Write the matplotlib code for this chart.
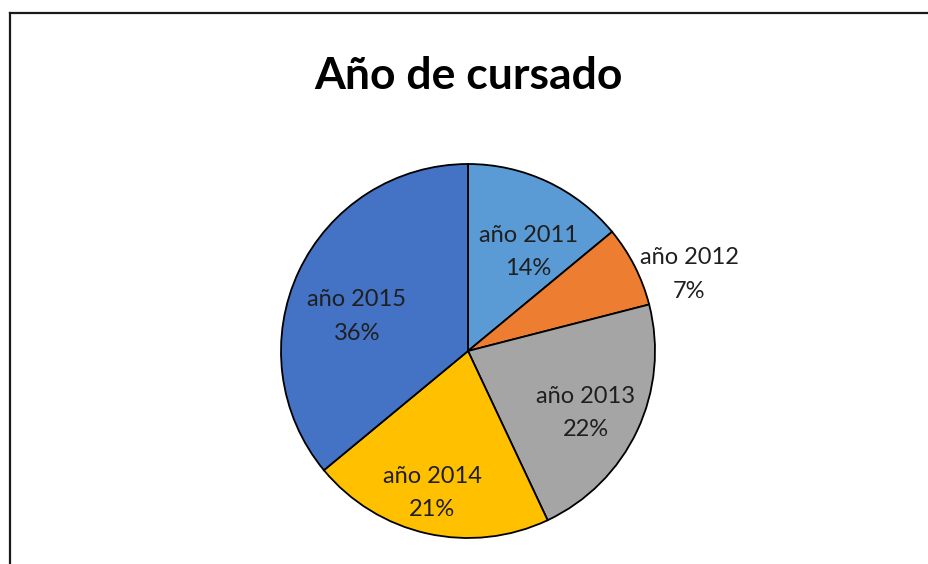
import matplotlib
matplotlib.use("Agg")
import matplotlib.pyplot as plt
from matplotlib.lines import Line2D
import numpy as np

categories = ["año 2011", "año 2012", "año 2013", "año 2014", "año 2015"]
values = [14, 7, 22, 21, 36]
colors = ["#5B9BD5", "#ED7D31", "#A5A5A5", "#FFC000", "#4472C4"]
label_dist = [0.64, 1.26, 0.70, 0.76, 0.63]
label_ang_off = [-5, -7, -1, -2, 6]

W, H = 929, 564
fig = plt.figure(figsize=(W / 100, H / 100), dpi=100)
fig.patch.set_facecolor("white")

cx, cy, r = 468, 351, 187
ax = fig.add_axes([(cx - r) / W, (H - cy - r) / H, 2 * r / W, 2 * r / H])
wedges, _ = ax.pie(values, colors=colors, startangle=90, counterclock=False,
                   wedgeprops=dict(edgecolor="black", linewidth=1.3))
ax.set_xlim(-1, 1)
ax.set_ylim(-1, 1)
ax.set_aspect("equal")
ax.axis("off")

for w, cat, v, d, off in zip(wedges, categories, values, label_dist, label_ang_off):
    ang = np.deg2rad((w.theta1 + w.theta2) / 2 + off)
    ax.annotate(f"{cat}\n{v}%", xy=(d * np.cos(ang), d * np.sin(ang)),
                xytext=(0, -3), textcoords="offset points", ha="center", va="center",
                fontsize=17, family="Lato", color="#1f1f1f", linespacing=1.72,
                annotation_clip=False)

fig.text(cx / W, 1 - 76 / H, "Año de cursado", ha="center", va="center",
         fontsize=32, fontweight="bold", family="Lato", color="black")

x0 = 10.5 / W
y0 = 1 - 12.5 / H
fig.add_artist(Line2D([x0, x0], [-0.05, y0], transform=fig.transFigure, color="#1a1a1a",
                      linewidth=1.6, solid_capstyle="projecting"))
fig.add_artist(Line2D([x0, 1.05], [y0, y0], transform=fig.transFigure, color="#1a1a1a",
                      linewidth=1.6, solid_capstyle="projecting"))

fig.savefig("out.png", dpi=100)
